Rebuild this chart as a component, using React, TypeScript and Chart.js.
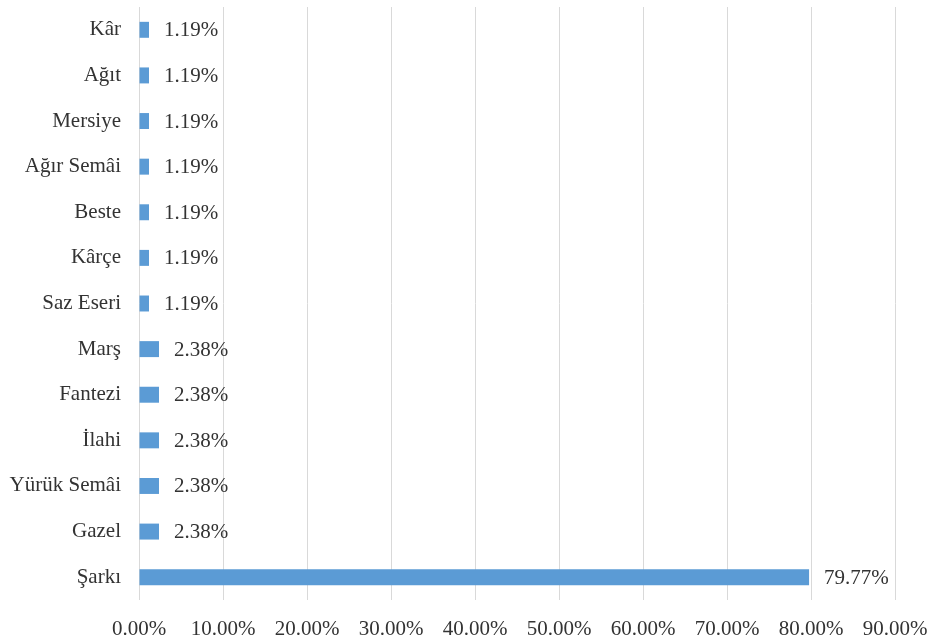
import React, { useEffect, useRef } from "react";
import { Chart, registerables } from "chart.js";

Chart.register(...registerables);

const categories = ["Kâr", "Ağıt", "Mersiye", "Ağır Semâi", "Beste", "Kârçe", "Saz Eseri", "Marş", "Fantezi", "İlahi", "Yürük Semâi", "Gazel", "Şarkı"];
const values = [1.19, 1.19, 1.19, 1.19, 1.19, 1.19, 1.19, 2.38, 2.38, 2.38, 2.38, 2.38, 79.77];
const xMin = 0;
const xMax = 90;
const xStep = 10;

const FONT = "'Liberation Serif', 'Times New Roman', serif";
const TEXT = "#333333";
const FS = 21;

const valueLabels = {
  id: "valueLabels",
  afterDatasetsDraw(chart: any) {
    const ctx = chart.ctx;
    const meta = chart.getDatasetMeta(0);
    ctx.save();
    ctx.font = `${FS}px ${FONT}`;
    ctx.fillStyle = TEXT;
    ctx.textAlign = "left";
    ctx.textBaseline = "middle";
    meta.data.forEach((bar: any, i: number) => {
      const v = chart.data.datasets[0].data[i];
      ctx.fillText(`${v.toFixed(2)}%`, bar.x + 15, bar.y + 1);
    });
    ctx.restore();
  },
};

export default function App() {
  const ref = useRef<HTMLCanvasElement>(null);
  useEffect(() => {
    const chart = new Chart(ref.current!, {
      type: "bar",
      data: {
        labels: categories,
        datasets: [
          {
            data: values,
            backgroundColor: "#5B9BD5",
            borderWidth: 0,
            categoryPercentage: 1,
            barPercentage: 0.35,
          },
        ],
      },
      options: {
        indexAxis: "y",
        animation: false,
        responsive: false,
        devicePixelRatio: 1,
        layout: { padding: { left: 0, right: 33, top: 7, bottom: 0 } },
        plugins: { legend: { display: false }, tooltip: { enabled: false } },
        scales: {
          x: {
            min: xMin,
            max: xMax,
            grid: { color: "#d9d9d9", drawTicks: false, lineWidth: 1 },
            border: { display: false },
            ticks: {
              stepSize: xStep,
              padding: 17,
              color: TEXT,
              font: { family: FONT, size: FS },
              callback: (v: any) => `${Number(v).toFixed(2)}%`,
              maxRotation: 0,
              autoSkip: false,
            },
            afterFit: (s: any) => {
              s.height = 38;
              s.paddingLeft = 0;
              s.paddingRight = 0;
            },
          },
          y: {
            grid: { display: false, drawTicks: false },
            border: { display: false },
            ticks: {
              padding: 18,
              color: TEXT,
              font: { family: FONT, size: FS },
              autoSkip: false,
            },
            afterFit: (s: any) => {
              s.width = 139;
              s.paddingTop = 0;
              s.paddingBottom = 0;
            },
          },
        },
      },
      plugins: [valueLabels],
    });
    return () => chart.destroy();
  }, []);
  return (
    <div style={{ position: "fixed", left: 0, top: 0, width: 928, height: 638, background: "#fff" }}>
      <canvas ref={ref} width={928} height={638} style={{ width: 928, height: 638 }} />
    </div>
  );
}
